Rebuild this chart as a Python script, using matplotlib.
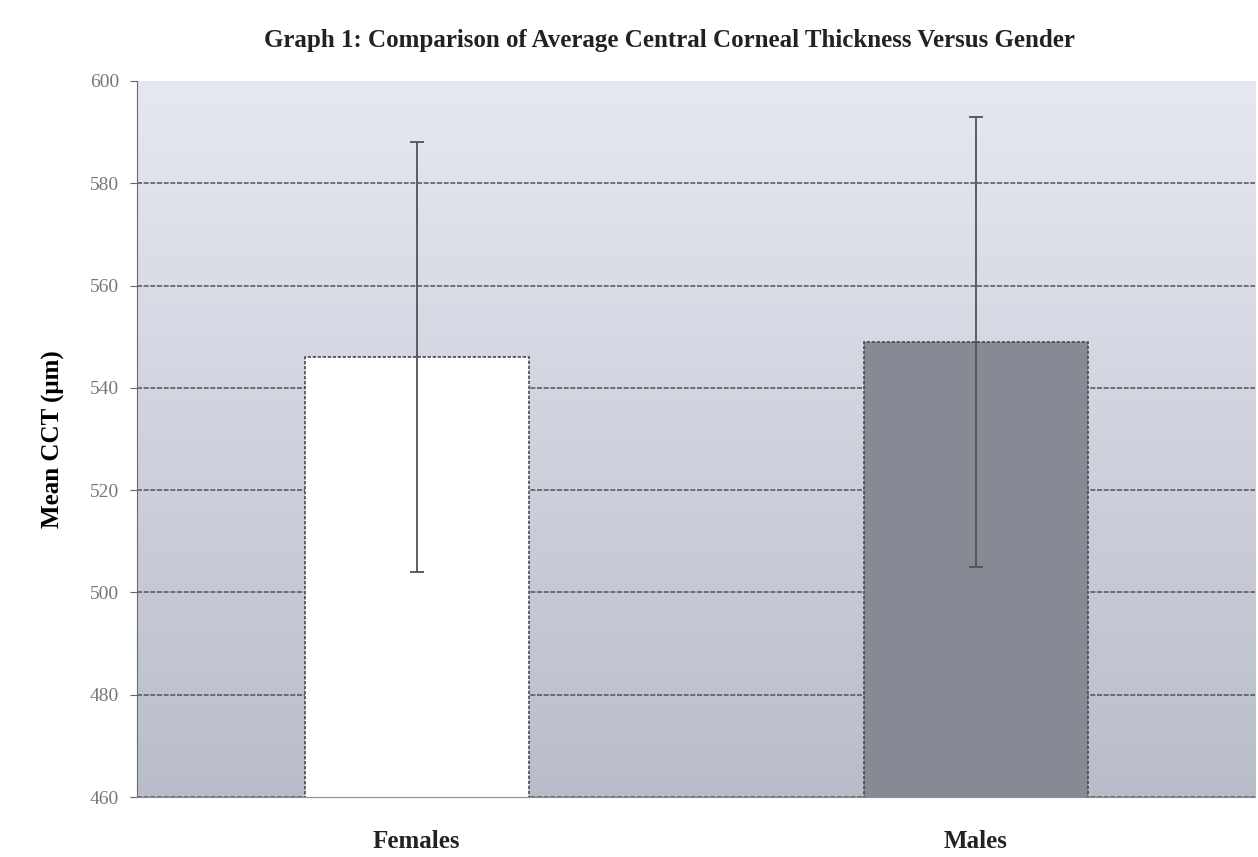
import matplotlib.pyplot as plt
import numpy as np
from matplotlib.colors import LinearSegmentedColormap

# Données
genres = ['Females', 'Males']
cct_moyen = [546, 549]
ecart_type = [42, 44]
couleurs_barres = ['#ffffff', '#878a95']
graduations_y = [460, 480, 500, 520, 540, 560, 580, 600]

plt.rcParams['font.family'] = ['Liberation Serif', 'DejaVu Serif']

fig = plt.figure(figsize=(12.58, 8.57), dpi=100)
ax = fig.add_axes([0.109, 0.07, 0.889, 0.8355])

# Fond dégradé (clair en haut, plus foncé en bas)
fond = LinearSegmentedColormap.from_list('fond', ['#b9bdca', '#e6e8f1'])
degrade = np.linspace(0, 1, 256).reshape(-1, 1)
ax.imshow(degrade, extent=[-0.5, 1.5, 460, 600], aspect='auto', cmap=fond,
          origin='lower', zorder=0)

x = np.arange(len(genres))
ax.bar(x, cct_moyen, width=0.4, color=couleurs_barres, edgecolor='#4a4a52',
       linewidth=1.2, linestyle=(0, (2, 1)), zorder=2)
ax.errorbar(x, cct_moyen, yerr=ecart_type, fmt='none', ecolor='#50525a',
            elinewidth=1.3, capsize=5, capthick=1.3, zorder=3)

ax.set_xlim(-0.5, 1.5)
ax.set_ylim(460, 600)
ax.set_yticks(graduations_y)
ax.set_xticks(x)
ax.set_xticklabels(genres, fontsize=18, fontweight='bold', color='#222222')
ax.tick_params(axis='x', length=0, pad=24)
ax.tick_params(axis='y', labelsize=14, labelcolor='#777777', color='#666666',
               length=5, pad=8)

# grille sous les barres, sans ligne au bord supérieur
ax.set_axisbelow(True)
ax.yaxis.grid(True, color='#5a5c66', linewidth=1.2, linestyle=(0, (3, 1)))
ax.get_ygridlines()[-1].set_visible(False)

ax.spines['top'].set_visible(False)
ax.spines['right'].set_visible(False)
ax.spines['left'].set_color('#666a75')
ax.spines['bottom'].set_color('#8a8d96')

ax.set_ylabel('Mean CCT (μm)', fontsize=18, fontweight='bold', labelpad=18)
fig.text(0.532, 0.953, 'Graph 1: Comparison of Average Central Corneal Thickness Versus Gender',
         ha='center', va='center', fontsize=18, fontweight='bold', color='#222222')

plt.savefig('out.png', dpi=100)
